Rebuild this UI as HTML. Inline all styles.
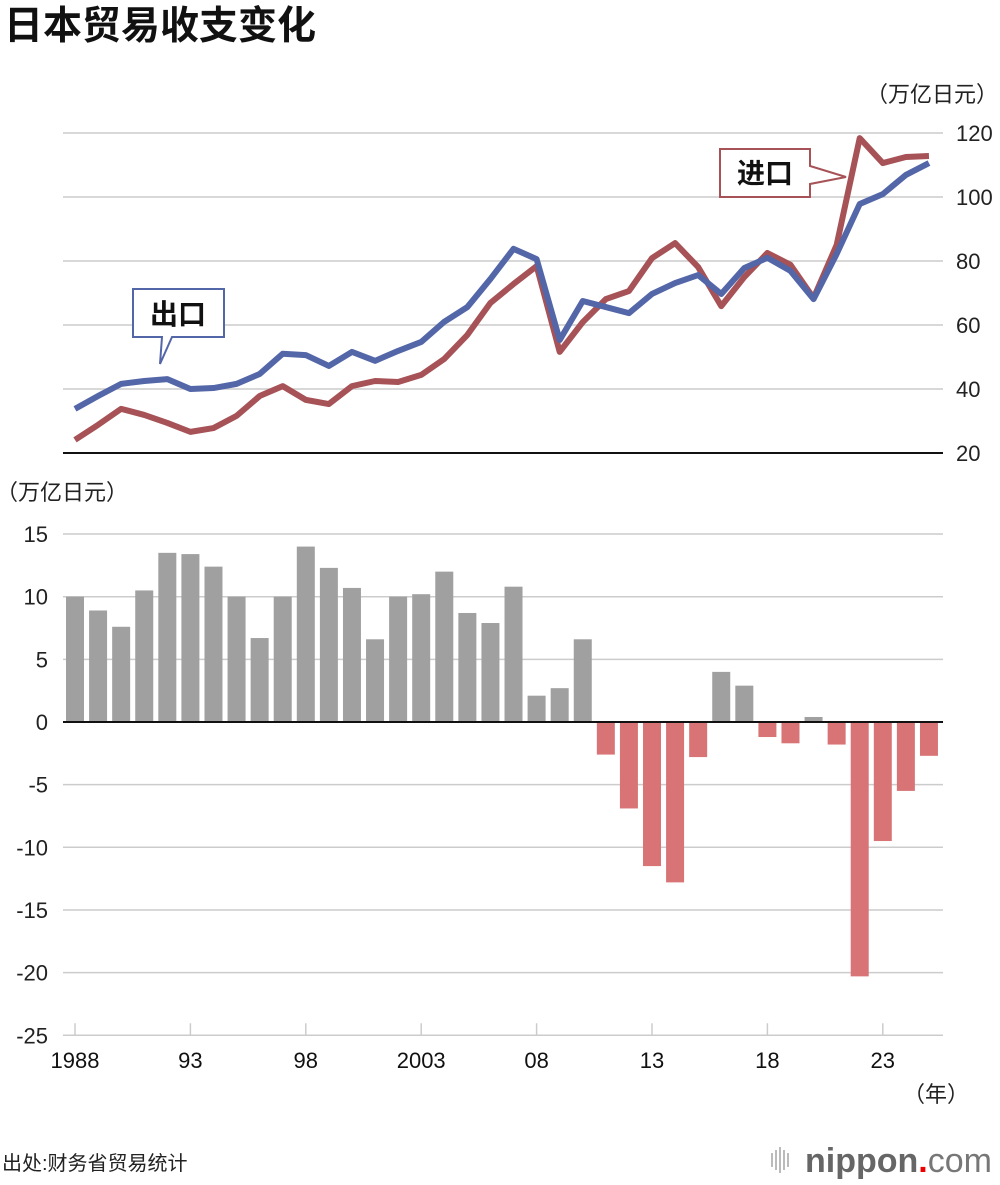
<!DOCTYPE html>
<html><head><meta charset="utf-8"><style>
body{margin:0;background:#fff;}
svg text{font-family:"Liberation Sans","Noto Sans CJK SC",sans-serif;}
</style></head><body>
<svg id="c" width="1000" height="1180" xmlns="http://www.w3.org/2000/svg">
<text x="4" y="39" font-size="39" font-weight="bold" fill="#111">日本贸易收支变化</text>
<text x="998" y="102" font-size="22" text-anchor="end" fill="#222">（万亿日元）</text>
<text x="-4" y="500" font-size="22" fill="#222">（万亿日元）</text>
<g id="topg"></g><g id="botg"></g>
<text x="903" y="1102" font-size="22" fill="#222">（年）</text>
<text x="2" y="1170" font-size="20" fill="#222">出处:财务省贸易统计</text>
<g>
<g fill="#bbb"><rect x="771" y="1153" width="2" height="14"/><rect x="775" y="1150" width="2" height="20"/><rect x="779" y="1147" width="2" height="26"/><rect x="783" y="1150" width="2" height="20"/><rect x="787" y="1153" width="2" height="14"/></g>
<text x="805" y="1172" font-size="34" font-weight="bold" fill="#666">nippon<tspan fill="#e00">.</tspan><tspan font-weight="normal" fill="#777">com</tspan></text>
</g>
</svg>
<script>
const years=[];for(let y=1988;y<=2025;y++)years.push(y);
const exportsVals=[33.8,37.8,41.6,42.5,43.1,40,40.3,41.6,44.7,51,50.6,47.2,51.6,48.8,51.9,54.7,61,65.6,74.4,83.8,80.6,55.3,67.5,65.6,63.7,69.7,73.1,75.6,69.7,77.8,81,76.9,68.1,82.2,97.8,100.9,106.9,110.6];
const importsVals=[24.1,28.8,33.8,31.9,29.4,26.6,27.8,31.6,37.8,40.9,36.6,35.3,40.9,42.5,42.2,44.4,49.4,56.9,66.9,72.8,78.4,51.6,60.9,68.1,70.6,80.9,85.6,78.1,65.9,75,82.5,78.8,68.4,85,118.4,110.6,112.5,112.8];
const balanceVals=[10,8.9,7.6,10.5,13.5,13.4,12.4,10,6.7,10,14,12.3,10.7,6.6,10,10.2,12,8.7,7.9,10.8,2.1,2.7,6.6,-2.6,-6.9,-11.5,-12.8,-2.8,4,2.9,-1.2,-1.7,0.4,-1.8,-20.3,-9.5,-5.5,-2.7];
const topTicks=[20,40,60,80,100,120];
const botTicks=[15,10,5,0,-5,-10,-15,-20,-25];
const xTickLabels=["1988","93","98","2003","08","13","18","23"];
const NS="http://www.w3.org/2000/svg";
const xS=yr=>75+(yr-1988)*23.08;
const yT=v=>453-(v-20)*3.2;
const yB=v=>722-v*12.53;
function mk(p,tag,a){const e=document.createElementNS(NS,tag);for(const k in a)e.setAttribute(k,a[k]);p.appendChild(e);return e;}
const topG=document.getElementById('topg'),botG=document.getElementById('botg');
topTicks.forEach(t=>{
 const l=mk(topG,'line',{x1:63,x2:943,y1:yT(t),y2:yT(t),stroke:t==20?'#111':'#ccc','stroke-width':t==20?2:1.5});
 
 
 const tx=mk(topG,'text',{x:956,y:yT(t)+8,'font-size':22,fill:'#222'});tx.textContent=t;
 
 
});
function line(vals,col,name){const p=mk(topG,'polyline',{points:vals.map((v,i)=>xS(years[i])+','+yT(v)).join(' '),fill:'none',stroke:col,'stroke-width':6,'stroke-linejoin':'round'});
 
 }
line(importsVals,'#a65256','import-line');
line(exportsVals,'#5366a8','export-line');
let g=mk(topG,'g',{});


mk(g,'path',{d:'M133 289 H224 V337 H172 L160 364 L162 337 H133 Z',fill:'#fff',stroke:'#5366a8','stroke-width':2});
let t=mk(g,'text',{x:178,y:324,'font-size':28,'font-weight':'bold','text-anchor':'middle',fill:'#111'});t.textContent='出口';
g=mk(topG,'g',{});


mk(g,'path',{d:'M720 149 H810 V166 L846 177 L810 184 V197 H720 Z',fill:'#fff',stroke:'#a65256','stroke-width':2});
t=mk(g,'text',{x:765,y:183,'font-size':28,'font-weight':'bold','text-anchor':'middle',fill:'#111'});t.textContent='进口';
botTicks.forEach(v=>{
 const l=mk(botG,'line',{x1:63,x2:943,y1:yB(v),y2:yB(v),stroke:'#ccc','stroke-width':1.5});
 
 
 const tx=mk(botG,'text',{x:48,y:yB(v)+8,'font-size':22,fill:'#222','text-anchor':'end'});tx.textContent=v;
 
 
});
balanceVals.forEach((v,i)=>{
 const y0=yB(Math.max(v,0)),h=Math.abs(yB(v)-yB(0));
 const r=mk(botG,'rect',{x:xS(years[i])-9,y:y0,width:18,height:h,fill:v>=0?'#a0a0a0':'#d87476'});
 
 
});
const z=mk(botG,'line',{x1:63,x2:943,y1:yB(0),y2:yB(0),stroke:'#111','stroke-width':2});


xTickLabels.forEach((lab,i)=>{
 const xx=xS(1988+i*5);
 const tk=mk(botG,'line',{x1:xx,x2:xx,y1:yB(-25)-12,y2:yB(-25),stroke:'#ccc','stroke-width':1.5});
 
 
 const tx=mk(botG,'text',{x:xx,y:1068,'font-size':22,fill:'#111','text-anchor':'middle'});tx.textContent=lab;
 
 
});
</script>
</body></html>
